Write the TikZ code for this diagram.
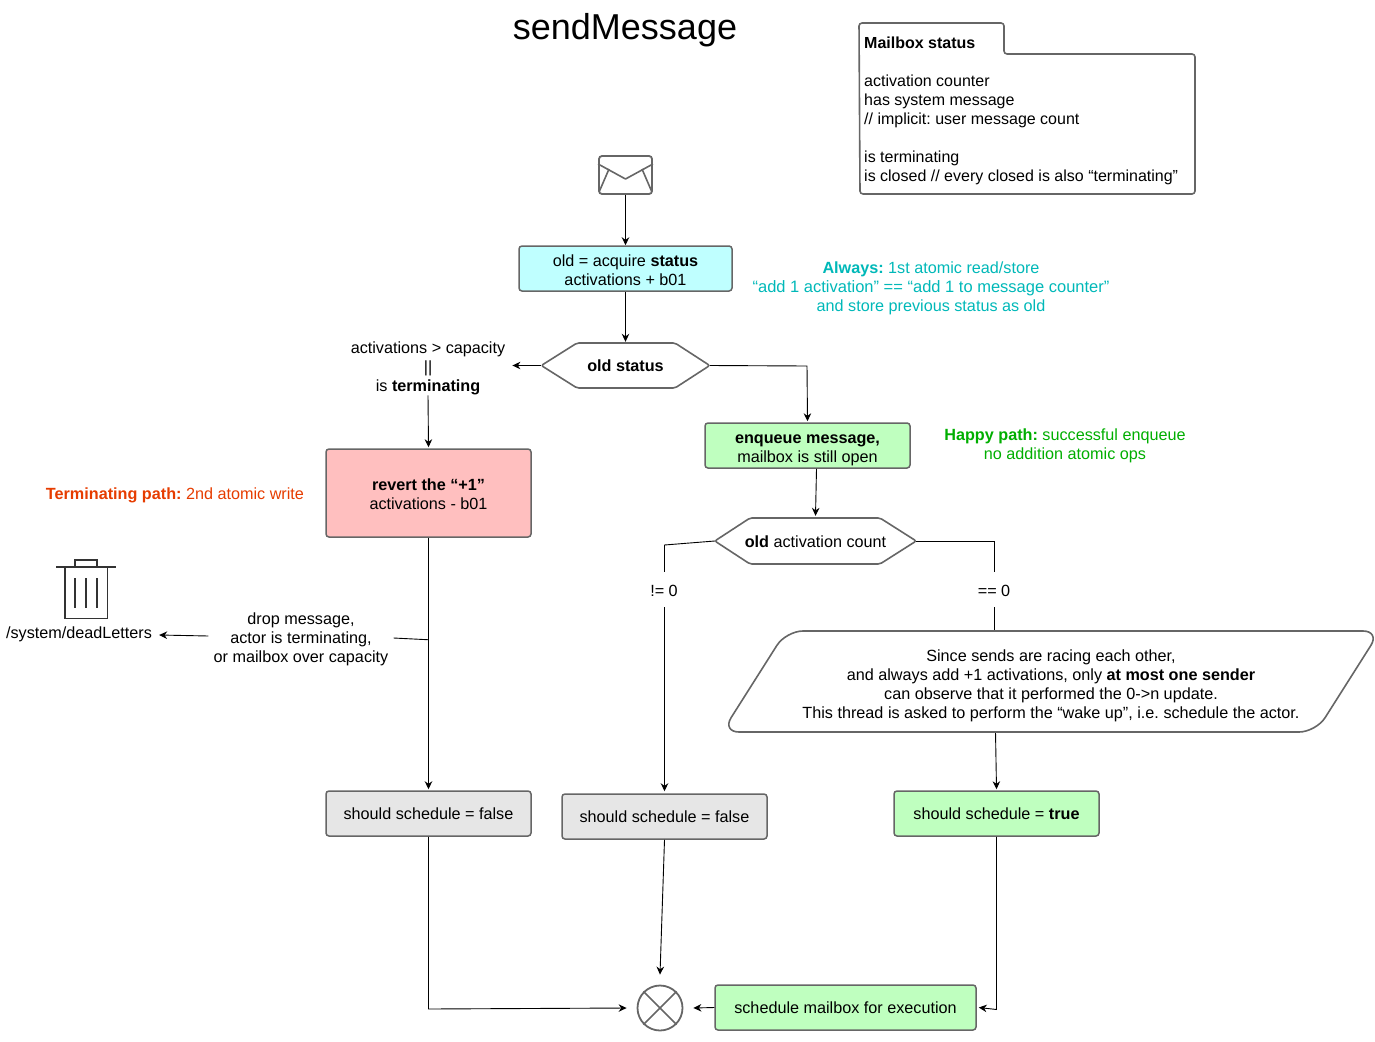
\documentclass[tikz,border=0pt]{standalone}
\usepackage{fontspec}
\setmainfont{Liberation Sans}
\frenchspacing
\usetikzlibrary{arrows.meta}
\definecolor{edgegray}{HTML}{666666}
\definecolor{cyanfill}{HTML}{BFFFFF}
\definecolor{greenfill}{HTML}{BFFFBF}
\definecolor{redfill}{HTML}{FFBFBF}
\definecolor{grayfill}{HTML}{E6E6E6}
\definecolor{tealtext}{HTML}{00B8B8}
\definecolor{greentext}{HTML}{00AE00}
\definecolor{redtext}{HTML}{E63C00}
\newcommand\st{\rule{0pt}{18.3pt}}
\newcommand\sts{\rule{0pt}{16.3pt}}
\newcommand\stb{\rule[-4pt]{0pt}{4pt}}
\tikzset{
  x=1pt,y=-1pt,
  every node/.style={inner sep=0pt,font=\fontsize{16.2}{19}\selectfont,align=center},
  box/.style={draw=edgegray,line width=1.5pt,rounded corners=3pt,minimum width=#1,minimum height=45pt},
  box/.default=205pt,
  outline/.style={draw=edgegray,line width=1.6pt,line join=round},
  trashline/.style={draw=black!80,line width=1.4pt},
  link/.style={draw=black,line width=0.9pt},
  arrow/.style={link,-{Stealth[length=8pt,width=7.5pt]}},
  lab/.style={fill=white,inner xsep=1pt,inner ysep=6pt},
}
\begin{document}
\begin{tikzpicture}
\useasboundingbox (0,0) rectangle (1375,1041);

% title
\node[font=\fontsize{36}{40}\selectfont] (title) at (625,30) {sendMessage};

% mailbox status folder
\coordinate (fa) at (860,194);
\draw[outline,rounded corners=3pt] (fa) -- (859,23) -- (1004,23) -- (1004,54) -- (1195,54) -- (1195,194) -- cycle;
\node[anchor=west,align=left,font=\fontsize{16}{19}\selectfont] (mbhead) at (864,43) {\textbf{Mailbox status}};
\node[anchor=north west,align=left,font=\fontsize{16}{19}\selectfont] (mbtext) at (864,75) {activation counter\\has system message\\// implicit: user message count\\[19pt]is terminating\\is closed // every closed is also “terminating”};

% envelope
\node[draw=edgegray,line width=1.8pt,rounded corners=3pt,minimum width=53pt,minimum height=38pt] (env) at (625.5,175) {};
\draw[outline] (env.west |- 0,164) -- (625.5,179) -- (env.east |- 0,164);
\draw[outline] (609,169) -- (599.5,191);
\draw[outline] (642,169) -- (651.5,191);

% acquire
\node[box=213pt,fill=cyanfill] (acq) at (625.5,268.5) {\st old = acquire \textbf{status}\\\stb activations + b01};
\node[text=tealtext] (always) at (931,285.5) {\st\textbf{Always:} 1st atomic read/store\\\fontsize{16.5}{19}\selectfont “add 1 activation” == “add 1 to message counter”\\\stb and store previous status as old};

% old status hexagon
\node[minimum width=168pt,minimum height=45pt] (oldst) at (625.5,365.5) {\sts\stb\textbf{old status}};
\draw[outline,rounded corners=2pt] (oldst.west) -- (577,343) -- (675,343) -- (oldst.east) -- (675,388) -- (577,388) -- cycle;

% capacity text
\node (cap) at (428,365) {\st activations > capacity\\||\\\stb is \textbf{terminating}};

% revert
\node[box=205pt,minimum height=88pt,fill=redfill] (rev) at (428.5,493) {\st\textbf{revert the “+1”}\\\stb activations - b01};
\node[text=redtext] (termtxt) at (175,492) {\st\stb\textbf{Terminating path:} 2nd atomic write};

% enqueue
\node[box=205pt,fill=greenfill] (enq) at (807.5,445.5) {\st\textbf{enqueue message,}\\\stb mailbox is still open};
\node[text=greentext] (happy) at (1065,443) {\st\textbf{Happy path:} successful enqueue\\\stb no addition atomic ops};

% old activation count hexagon
\node[minimum width=201pt,minimum height=46pt] (oac) at (815.5,541) {\sts\stb\textbf{old} activation count};
\draw[outline,rounded corners=2pt] (oac.west) -- (750,518) -- (880,518) -- (oac.east) -- (880,564) -- (750,564) -- cycle;

% parallelogram frame position
\node[minimum width=590pt,minimum height=101pt] (para) at (1051,682.5) {};

% trash
\node[minimum width=42pt,minimum height=51pt] (trash) at (86,592.5) {};
\draw[trashline] (56,567) -- (116,567);
\draw[trashline] (75,567) -- (75,560) -- (97,560) -- (97,567);
\draw[trashline] (trash.north west) -- (trash.south west) -- (trash.south east) -- (trash.north east);
\draw[trashline] (75,578) -- (75,608) (86,578) -- (86,608) (97,578) -- (97,608);
\node (dead) at (79,631.5) {\st\stb /system/deadLetters};
\node (drop) at (301,636.5) {\st drop message,\\actor is terminating,\\\stb or mailbox over capacity};

% results
\node[box=205pt,fill=grayfill] (ssa) at (428.5,813.5) {\sts\stb should schedule = false};
\node[box=205pt,fill=grayfill] (ssb) at (664.5,816.5) {\sts\stb should schedule = false};
\node[box=205pt,fill=greenfill] (ssc) at (996.5,813.5) {\sts\stb should schedule = \textbf{true}};
\node[box=261pt,fill=greenfill] (sched) at (845.5,1007.5) {\sts\stb schedule mailbox for execution};

% merge circle
\node[circle,draw=edgegray,line width=1.8pt,minimum size=45pt] (merge) at (660,1008) {};
\draw[outline] (merge.north west) -- (merge.south east) (merge.north east) -- (merge.south west);

% connectors
\draw[arrow] (env.south) -- (acq.north);
\draw[arrow] (acq.south) -- ([yshift=1pt]oldst.north);
\draw[arrow] (oldst.west) -- ([xshift=7pt]cap.east |- oldst.west);
\draw[arrow] (cap.south) -- ([yshift=1pt]rev.north);
\draw[arrow] (oldst.east) -- (807,366) -- ([yshift=1pt]enq.north);
\draw[arrow] ([xshift=9pt]enq.south) -- ([yshift=2pt]oac.north);
\draw[arrow] (rev.south) -- ([yshift=1pt]ssa.north);
\draw[link] ([yshift=-102pt]rev.south) -- ([xshift=5pt]drop.east |- 0,638);
\draw[arrow] ([xshift=-5pt]drop.west |- 0,636) -- ([xshift=7pt]dead.east |- 0,635);
\draw[arrow] (oac.west) -- (664.5,545) -- ([yshift=2pt]ssb.north);
\draw[link] (oac.east) -- (994,541) -- (994,631);
\draw[arrow] (995.5,732) -- ([yshift=1pt]ssc.north);
\draw[arrow] (ssa.south) -- (428.5,1009) -- ([xshift=-10pt]merge.west);
\draw[arrow] (ssb.south) -- ([yshift=10pt]merge.north);
\draw[arrow] (ssc.south) -- (996.5,1009.5) -- ([xshift=2pt]sched.east);
\draw[arrow] (sched.west) -- ([xshift=10pt]merge.east);

% parallelogram outline, drawn over the line ends
\draw[outline,fill=white,rounded corners=17pt] (786,631) -- (1380,631) -- (1316,732) -- (722,732) -- cycle;
\node (paratxt) at (para.center) {\st Since sends are racing each other,\\and always add +1 activations, only \textbf{at most one sender}\\can observe that it performed the 0->n update.\\\stb This thread is asked to perform the “wake up”, i.e. schedule the actor.};

% edge labels
\node[lab] (ne) at (664,589.5) {\st\stb != 0};
\node[lab] (eq) at (994,589.5) {\st\stb == 0};
\end{tikzpicture}
\end{document}
